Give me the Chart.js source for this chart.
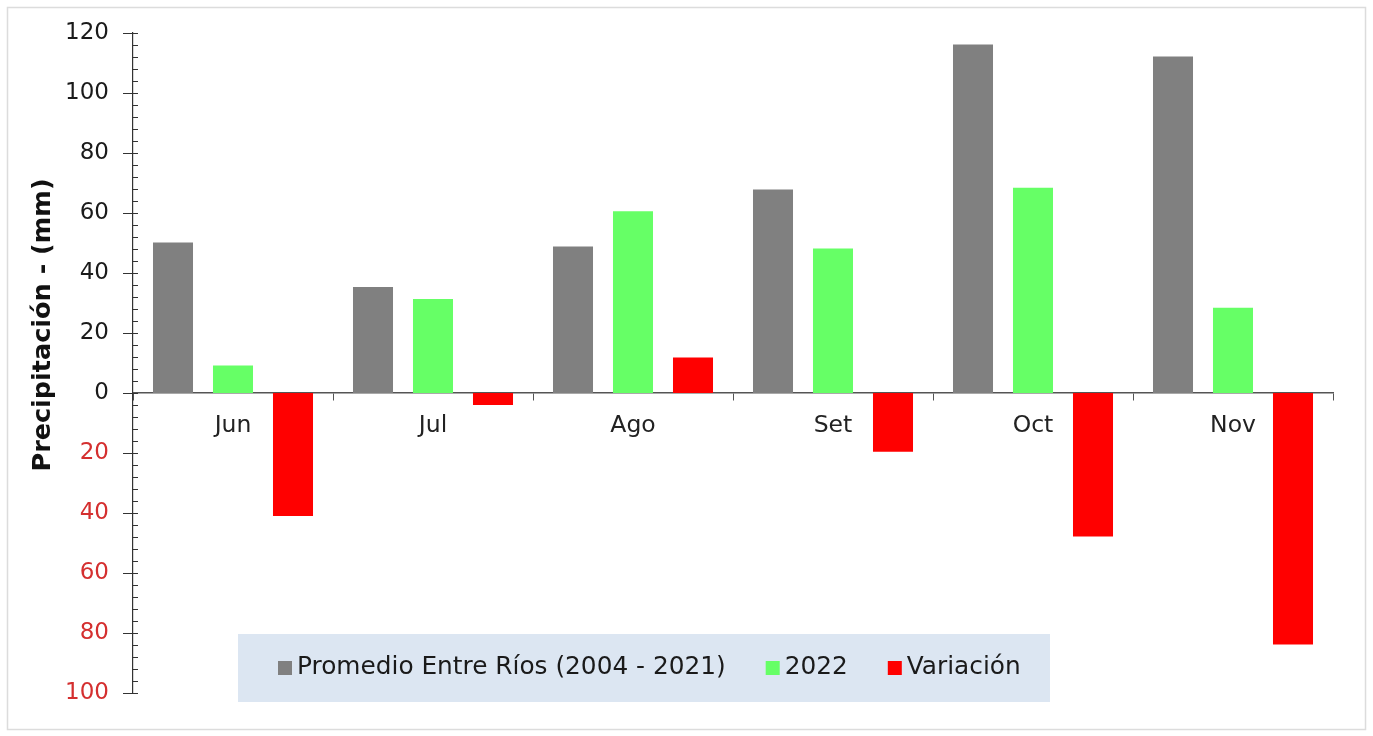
<!DOCTYPE html>
<html>
<head>
<meta charset="utf-8">
<script src="https://cdn.jsdelivr.net/npm/chart.js@4.4.1/dist/chart.umd.min.js"></script>
<style>
  html, body { margin: 0; padding: 0; background: #ffffff; }
  #wrap { width: 1373px; height: 736px; position: relative; }
</style>
</head>
<body>
<div id="wrap"><canvas id="c" width="1373" height="736"></canvas></div>
<script>
// ---- data ----
const categories = ['Jun', 'Jul', 'Ago', 'Set', 'Oct', 'Nov'];
const promedio = [50.2, 35.3, 48.8, 67.8, 116.2, 112.2];
const anio2022 = [9.2, 31.3, 60.6, 48.2, 68.4, 28.4];
const variacion = [-41.0, -4.0, 11.8, -19.6, -47.8, -83.8];
const seriesNames = ['Promedio Entre Ríos (2004 - 2021)', '2022', 'Variación'];
const yTicks = [-100, -80, -60, -40, -20, 0, 20, 40, 60, 80, 100, 120];
const yTitle = 'Precipitación - (mm)';

const colors = ['#808080', '#66ff66', '#ff0000'];
const FONT = "'DejaVu Sans', Verdana, sans-serif";

const framePlugin = {
  id: 'frame',
  beforeDraw(chart) {
    const ctx = chart.ctx;
    ctx.save();
    ctx.fillStyle = '#ffffff';
    ctx.fillRect(0, 0, chart.width, chart.height);
    ctx.strokeStyle = '#dcdcdc';
    ctx.lineWidth = 1.5;
    ctx.strokeRect(7.5, 7.5, chart.width - 15, chart.height - 14);
    ctx.restore();
  }
};

const axisMarksPlugin = {
  id: 'axisMarks',
  afterDraw(chart) {
    const ctx = chart.ctx;
    const y = chart.scales.y;
    const x0 = chart.chartArea.left;
    ctx.save();
    ctx.strokeStyle = '#333333';
    ctx.lineWidth = 1.2;
    ctx.beginPath();
    for (let v = y.min; v <= y.max + 0.001; v += 4) {
      const py = Math.round(y.getPixelForValue(v)) + 0.5;
      const major = Math.abs(v % 20) < 0.001;
      ctx.moveTo(major ? x0 - 10 : x0, py);
      ctx.lineTo(x0 + 5, py);
    }
    ctx.stroke();
    // y title
    ctx.translate(43, 325);
    ctx.rotate(-Math.PI / 2);
    ctx.fillStyle = '#111111';
    ctx.font = "bold 25.5px " + FONT;
    ctx.textAlign = 'center';
    ctx.textBaseline = 'middle';
    ctx.fillText(yTitle, 0, 0);
    ctx.restore();
  }
};

const legendBoxPlugin = {
  id: 'legendBox',
  afterDatasetsDraw(chart) {
    const ctx = chart.ctx;
    const ca = chart.chartArea;
    const left = ca.left + 105, top = 634, w = 812, h = 68;
    ctx.save();
    ctx.fillStyle = '#dce6f2';
    ctx.fillRect(left, top, w, h);
    ctx.font = "24.8px " + FONT;
    ctx.textBaseline = 'middle';
    let x = left + 40;
    const cy = top + h / 2;
    chart.data.datasets.forEach((ds, i) => {
      ctx.fillStyle = ds.backgroundColor;
      ctx.fillRect(x, cy - 7, 14, 14);
      x += 19;
      ctx.fillStyle = '#1a1a1a';
      ctx.fillText(ds.label, x, cy);
      x += ctx.measureText(ds.label).width + 40;
    });
    ctx.restore();
  }
};

new Chart(document.getElementById('c'), {
  type: 'bar',
  data: {
    labels: categories,
    datasets: [
      { label: seriesNames[0], data: promedio, backgroundColor: colors[0] },
      { label: seriesNames[1], data: anio2022, backgroundColor: colors[1] },
      { label: seriesNames[2], data: variacion, backgroundColor: colors[2] }
    ]
  },
  options: {
    responsive: false,
    animation: false,
    devicePixelRatio: 1,
    layout: { padding: { left: 0, top: 33, right: 40, bottom: 43 } },
    datasets: { bar: { categoryPercentage: 0.9, barPercentage: 0.667 } },
    plugins: { legend: { display: false }, tooltip: { enabled: false } },
    scales: {
      x: {
        position: { y: 0 },
        offset: true,
        grid: { display: true, drawOnChartArea: false, drawTicks: true, tickLength: 7, color: '#555555', offset: true },
        border: { display: true, color: '#555555', width: 1.5 },
        ticks: { color: '#222222', font: { family: FONT, size: 23.5 }, padding: 12, maxRotation: 0 }
      },
      y: {
        min: -100,
        max: 120,
        afterFit(scale) { scale.width = 133; },
        afterBuildTicks(scale) { scale.ticks = yTicks.map(v => ({ value: v })); },
        grid: { display: false },
        border: { display: true, color: '#333333', width: 1.2 },
        ticks: {
          padding: 16,
          font: { family: FONT, size: 23 },
          color: (c) => (c.tick && c.tick.value < 0 ? '#d42f2f' : '#1a1a1a'),
          callback: (v) => String(Math.abs(v))
        }
      }
    }
  },
  plugins: [framePlugin, axisMarksPlugin, legendBoxPlugin]
});
</script>
</body>
</html>
